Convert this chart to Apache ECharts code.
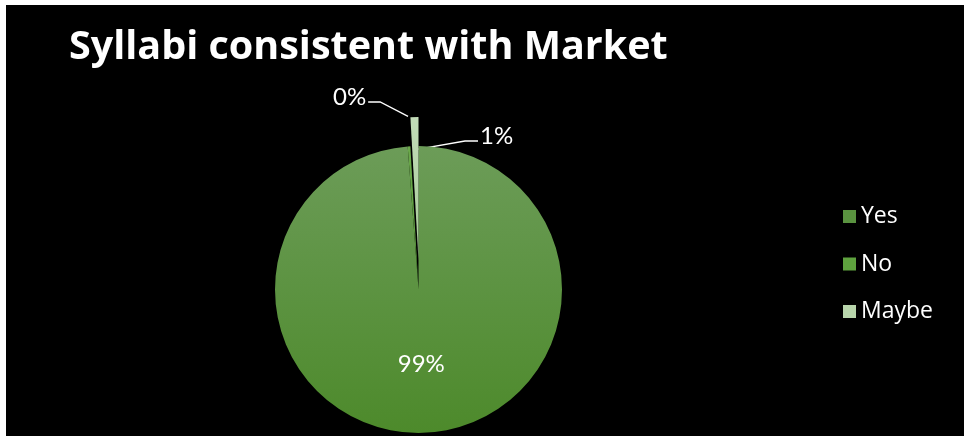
<!DOCTYPE html>
<html>
<head>
<meta charset="utf-8">
<script src="https://cdn.jsdelivr.net/npm/echarts@6/dist/echarts.min.js"></script>
<style>
html,body{margin:0;padding:0;background:#ffffff;width:964px;height:436px;overflow:hidden;}
#c{position:absolute;left:6px;top:5px;width:958px;height:431px;background:#000;}
</style>
</head>
<body>
<div id="c"></div>
<script>
const titleText = 'Syllabi consistent with Market';
const categories = ['Yes', 'No', 'Maybe'];
const values = [98.8, 0.3, 0.9];
const percentLabels = ['99%', '0%', '1%'];
const explodedIndex = 2;

const chart = echarts.init(document.getElementById('c'));
const yesGrad = new echarts.graphic.LinearGradient(0, 0, 0, 1, [
  {offset: 0, color: '#6c9c58'}, {offset: 1, color: '#4d8a2b'}
]);
const noGrad = new echarts.graphic.LinearGradient(0, 0, 0, 1, [
  {offset: 0, color: '#6aa84a'}, {offset: 1, color: '#58973a'}
]);
const maybeGrad = new echarts.graphic.LinearGradient(0, 0, 0, 1, [
  {offset: 0, color: '#c2dcb8'}, {offset: 1, color: '#a6c996'}
]);
const colors = [yesGrad, noGrad, maybeGrad];
const legendColors = ['#5a9340', '#5ea23e', '#b8d5ab'];

const CX = 412.5, CY = 284.5, R = 143.5, EXPLODE = 29;
// label placement (chart coords)
const labelPos = [null, {x: 327, y: 92}, {x: 474, y: 131}];
const labelFont = {color: '#fff', fontFamily: 'Lato', fontSize: 24};

function layoutFn(params) {
  const p = labelPos[params.dataIndex];
  if (!p) return {};
  const pts = params.labelLinePoints;
  if (!pts) return {x: p.x, y: p.y, align: 'left', verticalAlign: 'middle'};
  let anchor = pts[0].slice();
  const lw = params.labelRect.width;
  let mid, end;
  if (params.dataIndex === 1) {
    anchor = [anchor[0] - 1, anchor[1] - 30];
    end = [p.x + lw + 2, p.y + 5];
    mid = [end[0] + 12, end[1]];
  } else {
    anchor = [anchor[0] + 4, anchor[1] + 32];
    end = [p.x - 2, p.y + 5];
    mid = [end[0] - 13, end[1]];
  }
  return {x: p.x, y: p.y, align: 'left', verticalAlign: 'middle', labelLinePoints: [anchor, mid, end]};
}

function makeData(showIndex) {
  return categories.map((c, i) => {
    const visible = showIndex(i);
    return {
      name: c,
      value: values[i],
      itemStyle: {color: visible ? colors[i] : 'rgba(0,0,0,0)'},
      label: !visible ? {show: false} : (i === 0 ? Object.assign({
        show: true, position: 'inside', formatter: percentLabels[i]
      }, labelFont) : Object.assign({
        show: true, position: 'outside', formatter: percentLabels[i]
      }, labelFont)),
      labelLine: {show: visible && i !== 0, lineStyle: {color: '#fff', width: 1.3}, length: 20, length2: 12}
    };
  });
}

chart.setOption({
  backgroundColor: '#000',
  animation: false,
  title: {
    text: titleText,
    left: 58, top: 18,
    textStyle: {color: '#fff', fontFamily: 'Open Sans', fontWeight: 'bold', fontSize: 39.5}
  },
  legend: {
    orient: 'vertical',
    left: 832, top: 194,
    itemWidth: 13, itemHeight: 13, itemGap: 22.5,
    icon: 'rect',
    textStyle: {color: '#fff', fontFamily: 'Open Sans', fontSize: 23, lineHeight: 25, padding: [0, 0, 0, 0]},
    data: categories.map((c, i) => ({name: c, itemStyle: {color: legendColors[i]}}))
  },
  series: [{
    type: 'pie',
    center: [CX, CY],
    radius: R,
    startAngle: 90,
    clockwise: true,
    silent: true,
    avoidLabelOverlap: false,
    itemStyle: {borderWidth: 0},
    data: makeData(i => i !== explodedIndex),
    labelLayout: layoutFn
  }, {
    type: 'pie',
    center: [CX, CY - EXPLODE],
    radius: R,
    startAngle: 90,
    clockwise: true,
    silent: true,
    avoidLabelOverlap: false,
    itemStyle: {borderWidth: 0},
    data: makeData(i => i === explodedIndex),
    labelLayout: layoutFn
  }]
});
</script>
</body>
</html>
